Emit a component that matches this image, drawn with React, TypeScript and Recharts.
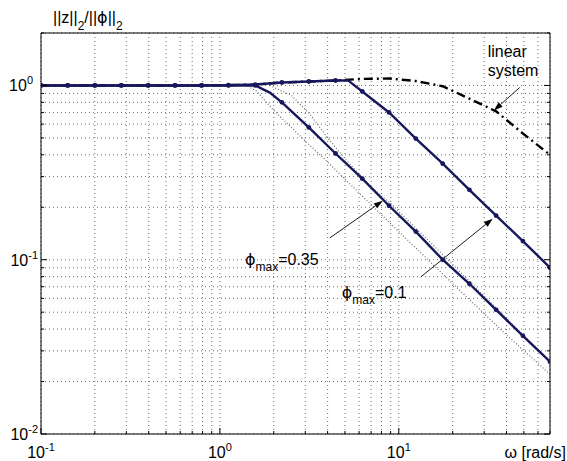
import React from "react";
import {
  ComposedChart,
  Line,
  XAxis,
  YAxis,
  CartesianGrid,
  ReferenceLine,
  ReferenceDot,
} from "recharts";

// frequencies where the markers sit (rad/s)
const omega = [
  0.1, 0.141, 0.2, 0.281, 0.397, 0.561, 0.79, 1.116, 1.575, 2.22, 3.14, 4.43,
  6.25, 8.82, 12.45, 17.6, 24.8, 35.0, 49.4, 70,
];
// phi_max = 0.35
const gain035 = [
  1, 1, 1, 1, 1, 1, 1, 1.005, 1.012, 1.04, 1.054, 1.068, 0.924, 0.7, 0.496,
  0.356, 0.252, 0.179, 0.128, 0.09,
];
const knee035Omega = [5.2];
const knee035 = [1.07];
// phi_max = 0.1
const gain01 = [
  1, 1, 1, 1, 1, 1, 1, 1, 1, 0.8, 0.574, 0.407, 0.292, 0.204, 0.145, 0.1,
  0.0728, 0.0516, 0.0366, 0.026,
];
const knee01Omega = [1.9];
const knee01 = [0.91];
// linear system
const gainLinear = [
  1, 1, 1, 1, 1, 1, 1, 1.005, 1.012, 1.04, 1.054, 1.068, 1.09, 1.096, 1.06,
  0.99, 0.84, 0.71, 0.53, 0.4,
];
// thin dotted companions of the phi_max = 0.1 curve
const dotAOmega = [0.1, 1.4, 1.6, 2.0, 3.0, 3.87, 5, 10, 20, 40, 70];
const dotA = [1, 1, 0.93, 0.72, 0.48, 0.376, 0.29, 0.145, 0.073, 0.037, 0.022];
const dotBOmega = [1.9, 2.5, 3.2, 4.0, 5.0, 6.9, 9.25, 20, 40, 70];
const dotB = [1.0, 0.88, 0.68, 0.5, 0.38, 0.265, 0.205, 0.094, 0.046, 0.026];

const xTicks = [
  0.1, 0.2, 0.3, 0.4, 0.5, 0.6, 0.7, 0.8, 0.9, 1, 2, 3, 4, 5, 6, 7, 8, 9, 10,
  20, 30, 40, 50, 60, 70,
];
const yTicks = [
  0.01, 0.02, 0.03, 0.04, 0.05, 0.06, 0.07, 0.08, 0.09, 0.1, 0.2, 0.3, 0.4,
  0.5, 0.6, 0.7, 0.8, 0.9, 1, 2,
];
const xMajor = [0.1, 1, 10];
const yMajor = [0.01, 0.1, 1];

const FONT = "'Liberation Sans', Arial, sans-serif";
const PHI_FONT = "'DejaVu Sans', 'Liberation Sans', sans-serif";
const NAVY = "#17175e";

type Pt = { w: number; v: number; dot: boolean };

function series(xs: number[], ys: number[], dot: boolean, exX: number[] = [], exY: number[] = []): Pt[] {
  const pts = xs.map((w, i) => ({ w, v: ys[i], dot }));
  exX.forEach((w, i) => pts.push({ w, v: exY[i], dot: false }));
  return pts.sort((a, b) => a.w - b.w);
}

const data035 = series(omega, gain035, true, knee035Omega, knee035);
const data01 = series(omega, gain01, true, knee01Omega, knee01);
const dataLin = series(omega, gainLinear, false);
const dataA = series(dotAOmega, dotA, false);
const dataB = series(dotBOmega, dotB, false);

const expOf = (v: number) => Math.round(Math.log10(v));

function XTick(props: any) {
  const { x, y, payload, side } = props;
  const major = xMajor.includes(payload.value);
  const len = major ? 6 : 3;
  const dir = side === "top" ? 1 : -1;
  return (
    <g>
      <line x1={x} x2={x} y1={y} y2={y + dir * len} stroke="#000" />
      {major && side !== "top" && (
        <text x={x} y={y + 24} textAnchor="middle" fontFamily={FONT} fontSize={16} fill="#000">
          10
          <tspan dy={-7} fontSize={11}>{expOf(payload.value)}</tspan>
        </text>
      )}
    </g>
  );
}

function YTick(props: any) {
  const { x, y, payload, side } = props;
  const major = yMajor.includes(payload.value);
  const len = major ? 6 : 3;
  const dir = side === "right" ? -1 : 1;
  const e = expOf(payload.value);
  return (
    <g>
      <line x1={x} x2={x + dir * len} y1={y} y2={y} stroke="#000" />
      {major && side !== "right" && (
        <text x={x - (e < 0 ? 3 : 8)} y={y + 6} textAnchor="end" fontFamily={FONT} fontSize={16} fill="#000">
          10
          <tspan dy={-7} fontSize={11}>{e}</tspan>
        </text>
      )}
    </g>
  );
}

function YTitle(props: any) {
  const { viewBox } = props;
  return (
    <text x={viewBox.x + 12} y={viewBox.y + 23} fontFamily={FONT} fontSize={16} fill="#000">
      ||z||
      <tspan dy={7} fontSize={12}>2</tspan>
      <tspan dy={-7}>/||</tspan>
      <tspan fontFamily={PHI_FONT}>ϕ</tspan>
      <tspan>||</tspan>
      <tspan dy={7} fontSize={12}>2</tspan>
    </text>
  );
}

function XTitle(props: any) {
  const { viewBox } = props;
  return (
    <text x={viewBox.x + viewBox.width + 16} y={viewBox.y + 24} textAnchor="end" fontFamily={FONT} fontSize={16} fill="#000">
      ω [rad/s]
    </text>
  );
}

function Arrow(props: any) {
  const { x1, y1, x2, y2 } = props;
  const a = Math.atan2(y2 - y1, x2 - x1);
  const L = 9;
  const W = 3;
  const bx = x2 - L * Math.cos(a);
  const by = y2 - L * Math.sin(a);
  const px = -Math.sin(a) * W;
  const py = Math.cos(a) * W;
  return (
    <g>
      <line x1={x1} y1={y1} x2={bx} y2={by} stroke="#000" strokeWidth={0.9} />
      <polygon points={`${x2},${y2} ${bx + px},${by + py} ${bx - px},${by - py}`} fill="#000" />
    </g>
  );
}

const phiLabel = (value: string) => (p: any) => (
  <text x={p.cx} y={p.cy} fontFamily={FONT} fontSize={16} fill="#000">
    <tspan fontFamily={PHI_FONT}>ϕ</tspan>
    <tspan dy={6} fontSize={12}>max</tspan>
    <tspan dy={-6}>{value}</tspan>
  </text>
);

const linearLabel = (p: any) => (
  <text x={p.cx} y={p.cy} fontFamily={FONT} fontSize={16} fill="#000">
    linear
    <tspan x={p.cx} dy={19}>system</tspan>
  </text>
);

const markerDot = (p: any) =>
  p.payload.dot ? (
    <circle key={p.index} cx={p.cx} cy={p.cy} r={2.4} fill={NAVY} />
  ) : (
    <g key={p.index} />
  );

export default function App() {
  return (
    <div style={{ position: "absolute", left: 0, top: 0, background: "#fff" }}>
      <ComposedChart width={567} height={461} margin={{ top: 0, right: 0, bottom: 0, left: 0 }}>
        <CartesianGrid stroke="#6f6f6f" strokeDasharray="1 3" xAxisId="bottom" yAxisId="left" />
        <XAxis
          xAxisId="bottom"
          dataKey="w"
          type="number"
          scale="log"
          domain={[0.1, 70]}
          ticks={xTicks}
          allowDataOverflow
          height={27}
          tickSize={0}
          tickMargin={0}
          tickLine={false}
          axisLine={{ stroke: "#000" }}
          tick={<XTick side="bottom" />}
          interval={0}
          label={<XTitle />}
        />
        <XAxis
          xAxisId="top"
          orientation="top"
          type="number"
          scale="log"
          domain={[0.1, 70]}
          ticks={xTicks}
          allowDataOverflow
          height={33}
          tickSize={0}
          tickMargin={0}
          tickLine={false}
          axisLine={{ stroke: "#000" }}
          tick={<XTick side="top" />}
          interval={0}
          label={<YTitle />}
        />
        <YAxis
          yAxisId="left"
          type="number"
          scale="log"
          domain={[0.01, 2]}
          ticks={yTicks}
          allowDataOverflow
          width={41}
          tickSize={0}
          tickMargin={0}
          tickLine={false}
          axisLine={{ stroke: "#000" }}
          tick={<YTick side="left" />}
          interval={0}
        />
        <YAxis
          yAxisId="right"
          orientation="right"
          type="number"
          scale="log"
          domain={[0.01, 2]}
          ticks={yTicks}
          allowDataOverflow
          width={17}
          tickSize={0}
          tickMargin={0}
          tickLine={false}
          axisLine={{ stroke: "#000" }}
          tick={<YTick side="right" />}
          interval={0}
        />

        <Line xAxisId="bottom" yAxisId="left" data={dataA} dataKey="v" type="linear" stroke="#6a6a6a" strokeWidth={1.2} strokeDasharray="1 2" dot={false} isAnimationActive={false} />
        <Line xAxisId="bottom" yAxisId="left" data={dataB} dataKey="v" type="linear" stroke="#6a6a6a" strokeWidth={1.2} strokeDasharray="1 2" dot={false} isAnimationActive={false} />
        <Line xAxisId="bottom" yAxisId="left" data={dataLin} dataKey="v" type="linear" stroke="#000" strokeWidth={2.4} strokeDasharray="9 4 2 4" dot={false} isAnimationActive={false} />
        <Line xAxisId="bottom" yAxisId="left" data={data01} dataKey="v" type="linear" stroke={NAVY} strokeWidth={2.4} dot={markerDot} activeDot={false} isAnimationActive={false} />
        <Line xAxisId="bottom" yAxisId="left" data={data035} dataKey="v" type="linear" stroke={NAVY} strokeWidth={2.4} dot={markerDot} activeDot={false} isAnimationActive={false} />

        <ReferenceLine xAxisId="bottom" yAxisId="left" segment={[{ x: 47.4, y: 0.974 }, { x: 34.0, y: 0.718 }]} shape={Arrow} ifOverflow="visible" />
        <ReferenceLine xAxisId="bottom" yAxisId="left" segment={[{ x: 4.12, y: 0.1335 }, { x: 8.14, y: 0.218 }]} shape={Arrow} ifOverflow="visible" />
        <ReferenceLine xAxisId="bottom" yAxisId="left" segment={[{ x: 13.27, y: 0.0797 }, { x: 33.5, y: 0.172 }]} shape={Arrow} ifOverflow="visible" />

        <ReferenceDot xAxisId="bottom" yAxisId="left" x={31.4} y={1.45} r={0} shape={linearLabel} ifOverflow="visible" />
        <ReferenceDot xAxisId="bottom" yAxisId="left" x={1.38} y={0.0936} r={0} shape={phiLabel("=0.35")} ifOverflow="visible" />
        <ReferenceDot xAxisId="bottom" yAxisId="left" x={4.8} y={0.0605} r={0} shape={phiLabel("=0.1")} ifOverflow="visible" />
      </ComposedChart>
    </div>
  );
}
